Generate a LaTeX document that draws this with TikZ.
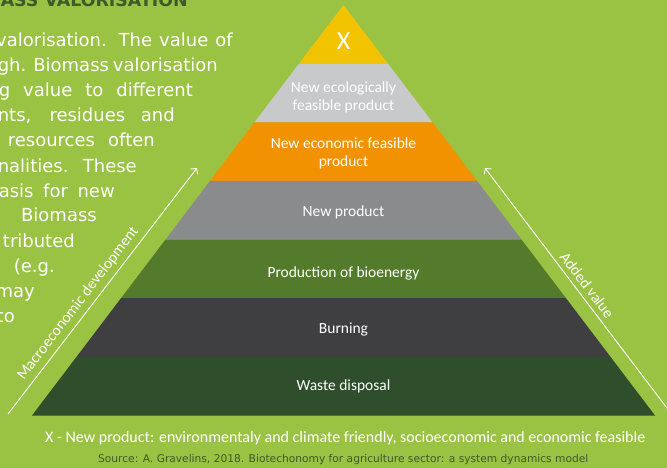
\documentclass[tikz,border=0pt]{standalone}
\usepackage{fontspec}
\setmainfont{Carlito}
\newfontfamily\bodyfont{DejaVu Sans}
\usetikzlibrary{arrows.meta,calc}
\definecolor{bg}{HTML}{9AC243}
\definecolor{dkgreen}{HTML}{3B5C28}
\definecolor{cyellow}{HTML}{F2C300}
\definecolor{clgray}{HTML}{C8C9CA}
\definecolor{corange}{HTML}{F39200}
\definecolor{cmgray}{HTML}{8A8B8D}
\definecolor{cgreen}{HTML}{547B2B}
\definecolor{cdgray}{HTML}{3F3E41}
\definecolor{cdgreen}{HTML}{2F4E2B}
\tikzset{
  lbl/.style={text=white, font=\fontsize{15.5}{18}\selectfont, inner sep=0pt, anchor=base},
  bodytxt/.style={text=white, font=\bodyfont\fontsize{18}{25}\selectfont, inner sep=0pt, anchor=base east},
  arr/.style={white, line width=0.9pt, -{Straight Barb[length=4pt,width=9pt]}},
  arrlbl/.style={text=white, font=\fontsize{15.5}{18}\selectfont, inner sep=0pt, sloped, above=5pt},
}
\begin{document}
\begin{tikzpicture}[x=1pt,y=-1pt]
\useasboundingbox (0,0) rectangle (667,468);
\clip (0,0) rectangle (667,468);
\fill[bg] (0,0) rectangle (667,468);

% title and body text (partly cut at the left)
\node[text=dkgreen, font=\bodyfont\bfseries\fontsize{17.4}{20}\selectfont, inner sep=0pt, anchor=base east] (title) at (188,6.5) {ASS VALORISATION};
\node[bodytxt] (t1) at (233,47) {\llap{v}\makebox[226pt][s]{alorisation. The value of}};
\node[bodytxt] (t2) at (215,72) {\makebox[217pt][s]{gh. Biomass valorisation}};
\node[bodytxt] (t3) at (193,97) {\makebox[194pt][s]{g value to different}};
\node[bodytxt] (t4) at (175,122) {\makebox[177pt][s]{nts, residues and}};
\node[bodytxt] (t5) at (155,147) {\makebox[147pt][s]{resources often}};
\node[bodytxt] (t6) at (137,172) {\makebox[139pt][s]{nalities. These}};
\node[bodytxt] (t7) at (115,197) {\makebox[116pt][s]{asis for new}};
\node[bodytxt] (t8) at (97,222) {Biomass};
\node[bodytxt] (t9) at (75,247) {tributed};
\node[bodytxt] (t10) at (55,272) {(e.g.};
\node[bodytxt] (t11) at (35,297) {may};
\node[bodytxt] (t12) at (15,322) {to};

% pyramid
\coordinate (A) at (343.5,5);
\coordinate (BL) at (32,415.5);
\coordinate (BR) at (655,415.5);
\foreach \k in {0,...,7}{
  \coordinate (L\k) at ($(A)!\k/7!(BL)$);
  \coordinate (R\k) at ($(A)!\k/7!(BR)$);
}
\fill[cyellow] (L0) -- (L1) -- (R1) -- cycle;
\fill[clgray] (L1) -- (L2) -- (R2) -- (R1) -- cycle;
\fill[corange] (L2) -- (L3) -- (R3) -- (R2) -- cycle;
\fill[cmgray] (L3) -- (L4) -- (R4) -- (R3) -- cycle;
\fill[cgreen] (L4) -- (L5) -- (R5) -- (R4) -- cycle;
\fill[cdgray] (L5) -- (L6) -- (R6) -- (R5) -- cycle;
\fill[cdgreen] (L6) -- (L7) -- (R7) -- (R6) -- cycle;

\node[lbl, font=\fontsize{26}{28}\selectfont] (x) at (343.5,50) {X};
\node[lbl] (eco1) at (343.5,93) {New ecologically};
\node[lbl] (eco2) at (343.5,111) {feasible product};
\node[lbl] (econ1) at (343.5,149) {New economic feasible};
\node[lbl] (econ2) at (343.5,167) {product};
\node[lbl] (np) at (343.5,216.5) {New product};
\node[lbl] (bio) at (343.5,277) {Production of bioenergy};
\node[lbl] (burn) at (343.5,333) {Burning};
\node[lbl] (waste) at (343.5,390) {Waste disposal};

% side arrows
\coordinate (ml0) at (8,414);
\coordinate (ml1) at (197,168);
\draw[arr] (ml0) -- (ml1);
\path (ml0) -- (ml1) node[arrlbl, pos=0.42] (mlab) {Macroeconomic development};
\coordinate (av0) at (676,420);
\coordinate (av1) at (485,168);
\draw[arr] (av0) -- (av1);
\path (av1) -- (av0) node[arrlbl, pos=0.49] (alab) {Added value};

% captions
\node[lbl, font=\fontsize{16}{18}\selectfont, anchor=base west] (cap) at (45,442) {X - New product: environmentaly and climate friendly, socioeconomic and economic feasible};
\node[text=dkgreen, font=\bodyfont\fontsize{10.65}{12}\selectfont, inner sep=0pt, anchor=base west] (src) at (98,462) {Source: A. Gravelins, 2018. Biotechonomy for agriculture sector: a system dynamics model};
\end{tikzpicture}
\end{document}
